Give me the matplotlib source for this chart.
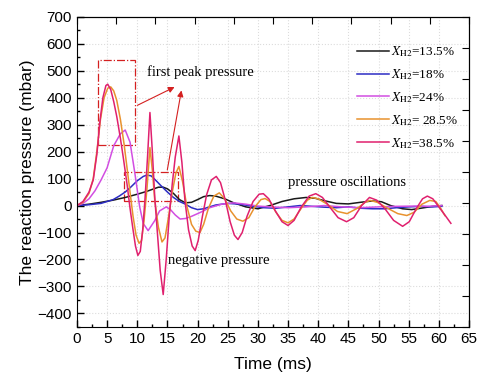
import matplotlib
matplotlib.use("Agg")
import matplotlib.pyplot as plt
from matplotlib.patches import Rectangle
from matplotlib.ticker import MultipleLocator


# --- data (time in ms, pressure in mbar) ---
t_135 = [0, 2, 4, 6, 8, 10, 11.5, 12.5, 13.5, 14.3, 15, 16, 17, 18, 19, 20,
         21, 22, 23, 24.5, 26, 28, 30, 32, 34, 36, 38, 39.5, 41, 43, 45, 47,
         49, 50.5, 52, 54, 55.5, 57, 59, 60.5]
p_135 = [0, 5, 12, 20, 30, 42, 52, 60, 68, 68, 62, 45, 22, 10, 12, 22,
         33, 37, 35, 25, 10, -5, -12, 0, 15, 25, 30, 27, 18, 8, 6, 12,
         17, 14, 0, -12, -15, -10, -3, 0]

t_18 = [0, 2, 4, 5, 6, 7, 8, 9, 10, 11, 11.6, 12.3, 13, 14, 15, 16, 17, 18,
        19, 20, 21, 22, 23, 25, 27, 29, 31, 33, 35, 37, 39, 41, 43, 45, 47,
        49, 51, 53, 55, 57, 59, 60.5]
p_18 = [0, 3, 8, 15, 22, 35, 50, 70, 92, 108, 113, 110, 95, 72, 50, 30, 15, 5,
        -8, -15, -12, -5, 2, 8, 5, -2, -8, -10, -5, 0, -3, -6, -8, -5, -10,
        -12, -12, -8, -5, -3, -5, -3]

t_24 = [0, 1, 2, 3, 4, 5, 6.1, 7.2, 8, 8.8, 9.6, 10.4, 11, 11.8, 12.9, 13.7,
        14.8, 15.5, 16.3, 17.1, 18, 19, 20.5, 22, 24, 26, 28, 30, 32, 35, 38,
        41, 44, 47, 50, 53, 56, 58, 60.5]
p_24 = [0, 8, 25, 55, 95, 140, 222, 266, 280, 235, 120, -5, -67, -93, -56, -20,
        -5, -15, -35, -50, -48, -40, -25, -8, 5, 10, 5, -2, -5, -8, -5,
        0, -5, -8, -5, -3, -2, -3, 0]

t_285 = [0, 1, 2, 2.7, 3.3, 3.9, 4.5, 5.1, 5.6, 6.1, 6.6, 7.2, 7.8, 8.3, 8.8,
         9.3, 9.8, 10.3, 10.7, 11.1, 11.6, 12.1, 12.5, 12.9, 13.5, 14.1, 14.6,
         15.2, 15.8, 16.4, 16.9, 17.5, 18.2, 19, 19.7, 20.4, 21, 21.8, 22.7,
         23.6, 24.5, 25.5, 26.5, 27.5, 28.5, 29.5, 30.5, 31.2, 32, 33, 34, 35,
         36, 37.2, 38.2, 39, 40, 41.5, 43.2, 44.8, 46.5, 47.8, 48.6, 49.8,
         51.5, 53.2, 54.7, 55.9, 57.2, 58.5, 59.5, 60.3, 61]
p_285 = [0, 12, 45, 100, 200, 320, 400, 435, 440, 425, 390, 320, 230, 140, 50,
         -40, -110, -140, -130, -60, 60, 215, 130, 20, -80, -135, -120,
         -40, 50, 120, 145, 90, 0, -70, -95, -100, -70, -10, 35,
         47, 25, -20, -50, -58, -45, -5, 22, 26, 15, -25, -55, -64,
         -50, -10, 20, 30, 25, 5, -22, -30, -10, 12, 19, 12,
         -10, -30, -37, -25, 5, 19, 15, -10, -37]

t_385 = [0, 1, 2, 2.7, 3.3, 3.8, 4.3, 4.8, 5.1, 5.6, 6.1, 6.6, 7.2, 7.7, 8.3,
         8.8, 9.3, 9.7, 10.1, 10.5, 10.9, 11.3, 11.7, 12.1, 12.5, 12.9, 13.3,
         13.8, 14.3, 14.8, 15.3, 15.8, 16.3, 16.9, 17.4, 17.9, 18.5, 19.1,
         19.6, 20.1, 20.8, 21.5, 22.3, 23.1, 23.8, 24.6, 25.4, 26.1, 26.7,
         27.4, 28.2, 29.2, 30.2, 30.9, 31.8, 32.9, 34, 35, 36, 37.2, 38.5,
         39.6, 40.7, 41.9, 43.3, 44.7, 45.9, 47.2, 48.5, 49.7, 51, 52.5, 54,
         55.1, 56.3, 57.3, 58.1, 59, 60, 61, 62]
p_385 = [0, 15, 50, 95, 190, 310, 400, 445, 450, 430, 385, 330, 250, 175, 80,
         -10, -90, -150, -185, -170, -90, 30, 180, 345, 200, 30, -90,
         -240, -330, -200, -40, 80, 180, 258, 160, 20, -90, -150,
         -167, -130, -40, 40, 95, 108, 85, 20, -60, -110, -126,
         -100, -40, 15, 42, 44, 25, -20, -60, -74, -55, -5, 35,
         44, 30, -5, -45, -60, -45, 0, 30, 20, -10, -55, -77,
         -60, -10, 25, 35, 25, -5, -35, -66]

series_labels = [r"$X_{\mathrm{H2}}$=13.5%", r"$X_{\mathrm{H2}}$=18%",
                 r"$X_{\mathrm{H2}}$=24%", r"$X_{\mathrm{H2}}$= 28.5%",
                 r"$X_{\mathrm{H2}}$=38.5%"]
series_colors = ["#1a1a1a", "#2c2cc4", "#d24ee2", "#e8922e", "#e0206e"]

x_ticks = list(range(0, 70, 5))
y_ticks = list(range(-400, 800, 100))


plt.rcParams["font.family"] = "Liberation Sans"
plt.rcParams["mathtext.fontset"] = "stix"

fig = plt.figure(figsize=(4.81, 3.81), dpi=100)
ax = fig.add_axes([0.160, 0.142, 0.815, 0.814])

all_t = [t_135, t_18, t_24, t_285, t_385]
all_p = [p_135, p_18, p_24, p_285, p_385]
for t, p, lab, col in zip(all_t, all_p, series_labels, series_colors):
    ax.plot(t, p, color=col, lw=1.1, label=lab)

# boxes around the first peaks
ax.add_patch(Rectangle((3.5, 225), 6.1, 315, fill=False, ec="#d42020",
                       lw=0.9, ls="-."))
ax.add_patch(Rectangle((7.8, 18), 8.9, 107, fill=False, ec="#d42020",
                       lw=0.9, ls="-."))

arrow = dict(arrowstyle="-|>", color="#d42020", lw=0.8, mutation_scale=9)
ax.annotate("", xy=(16.6, 444), xytext=(9.6, 367), arrowprops=arrow)
ax.annotate("", xy=(17.4, 437), xytext=(14.9, 122), arrowprops=arrow)

serif = "Liberation Serif"
ax.text(11.6, 493, "first peak pressure", family=serif, fontsize=10.5,
        va="center", ha="left")
ax.text(15.1, -204, "negative pressure", family=serif, fontsize=10.5,
        va="center", ha="left")
ax.text(35.0, 85, "pressure oscillations", family=serif, fontsize=10.5,
        va="center", ha="left")

ax.set_xlim(0, 65)
ax.set_ylim(-450, 700)
ax.set_xticks(x_ticks)
ax.set_yticks(y_ticks)
ax.xaxis.set_minor_locator(MultipleLocator(2.5))
ax.yaxis.set_minor_locator(MultipleLocator(50))
ax.tick_params(which="major", direction="in", length=5, labelsize=11,
               width=1)
ax.tick_params(which="minor", direction="in", length=2.5, width=1)
ax.grid(which="major", color="#dcdcdc", ls=":", lw=0.8)

# top and right axes carry their own ten-division ticks
top = ax.secondary_xaxis("top")
top.set_xticks([i * 6.5 for i in range(11)])
top.tick_params(direction="in", length=5, labeltop=False)
right = ax.secondary_yaxis("right")
right.set_yticks([-450 + i * 115 for i in range(11)])
right.tick_params(direction="in", length=5, labelright=False)

ax.set_xlabel("Time (ms)", fontsize=12.5, labelpad=8)
ax.set_ylabel("The reaction pressure (mbar)", fontsize=12.5, labelpad=2)

leg = ax.legend(loc="upper left", bbox_to_anchor=(0.685, 0.95),
                frameon=False, prop={"family": serif, "size": 9.5},
                handlelength=2.4, handletextpad=0.15, labelspacing=0.62)

fig.savefig("out.png", dpi=100)
